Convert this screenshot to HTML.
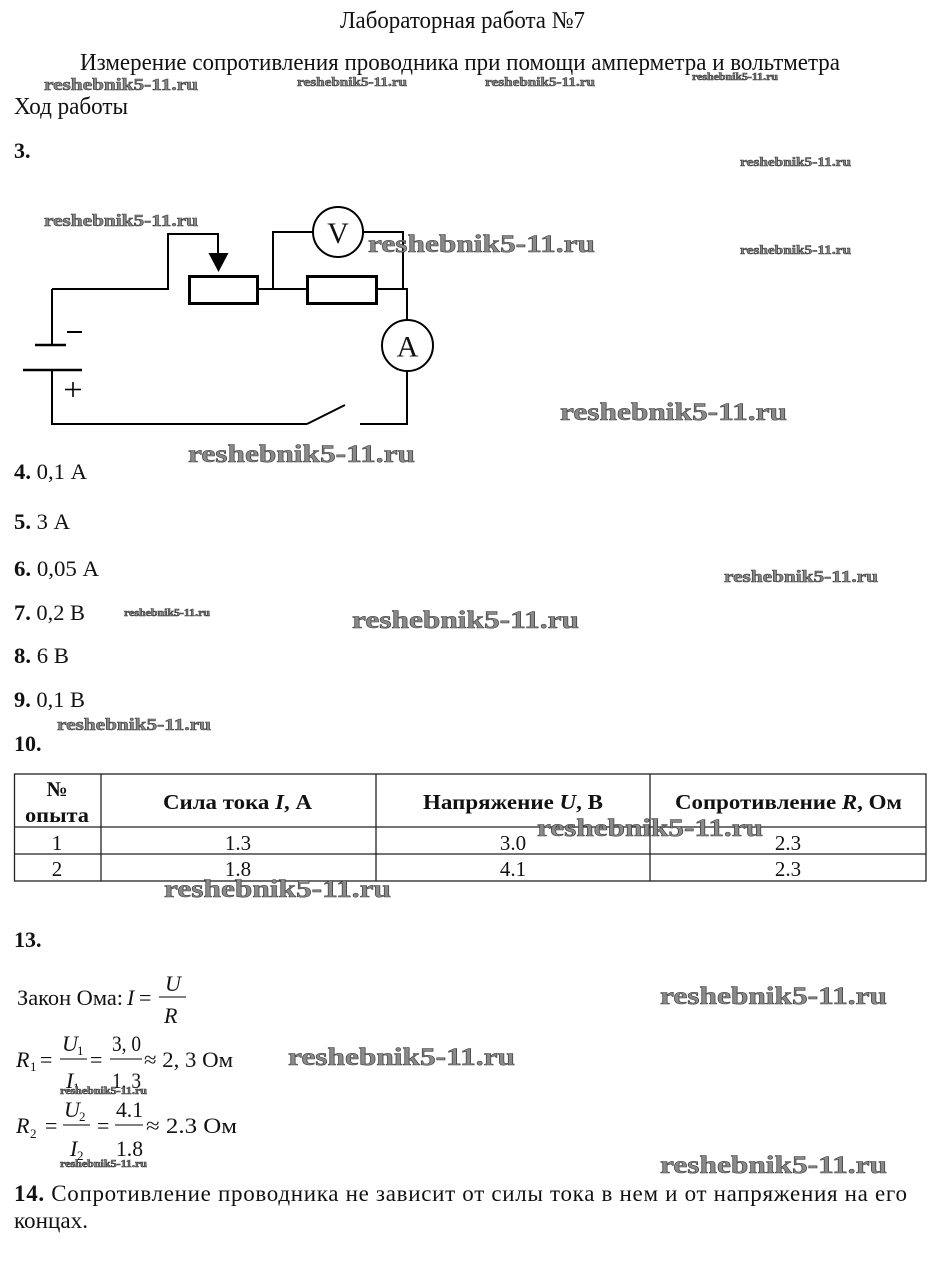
<!DOCTYPE html>
<html><head><meta charset="utf-8"><style>
html,body{margin:0;padding:0;background:#fff;}
svg{display:block;}
text{font-family:"Liberation Serif","DejaVu Serif",serif;fill:#111;}
.b{font-weight:bold;}
.i{font-style:italic;}
.wm{font-family:"Liberation Serif",serif;font-weight:bold;fill:#8a8a8a;stroke:#3c3c3c;stroke-width:0.6;}
.w{stroke:#000;stroke-width:2;fill:none;}
</style></head><body>
<svg width="937" height="1274" viewBox="0 0 937 1274" xmlns="http://www.w3.org/2000/svg">
<rect width="937" height="1274" fill="#fff"/>

<!-- Titles -->
<text x="340" y="28" font-size="24" textLength="245" lengthAdjust="spacingAndGlyphs">Лабораторная работа №7</text>
<text x="80" y="70" font-size="24" textLength="760" lengthAdjust="spacingAndGlyphs">Измерение сопротивления проводника при помощи амперметра и вольтметра</text>
<text x="14" y="114" font-size="24" textLength="114" lengthAdjust="spacingAndGlyphs">Ход работы</text>
<text x="14" y="158" font-size="22" class="b">3.</text>

<!-- Circuit -->
<path class="w" d="M52,289 H168 V234 H218 V254"/>
<polygon points="208.5,253 228.5,253 218.5,272" fill="#000"/>
<rect x="189.5" y="276.5" width="68" height="27" fill="none" stroke="#000" stroke-width="3"/>
<path class="w" d="M257,289 H307"/>
<rect x="307.5" y="276.5" width="69" height="27" fill="none" stroke="#000" stroke-width="3"/>
<path class="w" d="M376,289 H407 V320"/>
<path class="w" d="M273,289 V232 H313"/>
<path class="w" d="M363,232 H403 V289"/>
<circle cx="338" cy="232" r="25" fill="none" stroke="#000" stroke-width="2"/>
<text x="338" y="243" font-size="30" text-anchor="middle">V</text>
<circle cx="407.5" cy="345.5" r="25.5" fill="none" stroke="#000" stroke-width="2"/>
<text x="407.5" y="356.5" font-size="30" text-anchor="middle">A</text>
<path class="w" d="M407,371 V424 H360"/>
<line x1="307" y1="424" x2="345" y2="405" stroke="#000" stroke-width="2"/>
<path class="w" d="M307,424 H52 V370"/>
<path class="w" d="M52,345 V289"/>
<line x1="23" y1="370" x2="82" y2="370" stroke="#000" stroke-width="2.5"/>
<line x1="35" y1="345" x2="66" y2="345" stroke="#000" stroke-width="2.5"/>
<line x1="67" y1="332" x2="82" y2="332" stroke="#000" stroke-width="2"/>
<line x1="65" y1="389.5" x2="81" y2="389.5" stroke="#000" stroke-width="1.6"/>
<line x1="73" y1="382" x2="73" y2="397" stroke="#000" stroke-width="1.6"/>

<!-- Answers -->
<text x="14" y="479" font-size="22" textLength="73" lengthAdjust="spacingAndGlyphs"><tspan class="b">4.</tspan> 0,1 А</text>
<text x="14" y="529" font-size="22" textLength="56" lengthAdjust="spacingAndGlyphs"><tspan class="b">5.</tspan> 3 А</text>
<text x="14" y="576" font-size="22" textLength="85" lengthAdjust="spacingAndGlyphs"><tspan class="b">6.</tspan> 0,05 А</text>
<text x="14" y="620" font-size="22" textLength="71" lengthAdjust="spacingAndGlyphs"><tspan class="b">7.</tspan> 0,2 В</text>
<text x="14" y="663" font-size="22" textLength="55" lengthAdjust="spacingAndGlyphs"><tspan class="b">8.</tspan> 6 В</text>
<text x="14" y="707" font-size="22" textLength="71" lengthAdjust="spacingAndGlyphs"><tspan class="b">9.</tspan> 0,1 В</text>
<text x="14" y="751" font-size="22" class="b">10.</text>

<!-- Table -->
<g stroke="#222" stroke-width="1.3" fill="none">
<rect x="14.5" y="774" width="911.5" height="107"/>
<line x1="14" y1="827" x2="926" y2="827"/>
<line x1="14" y1="854" x2="926" y2="854"/>
<line x1="101" y1="774" x2="101" y2="881"/>
<line x1="376" y1="774" x2="376" y2="881"/>
<line x1="650" y1="774" x2="650" y2="881"/>
</g>
<g font-size="21" class="b">
<text x="57" y="796" text-anchor="middle" class="b">№</text>
<text x="25" y="822" class="b" textLength="64" lengthAdjust="spacingAndGlyphs">опыта</text>
<text x="163" y="809" class="b" textLength="149" lengthAdjust="spacingAndGlyphs">Сила тока <tspan class="i">I</tspan>, А</text>
<text x="423" y="809" class="b" textLength="180" lengthAdjust="spacingAndGlyphs">Напряжение <tspan class="i">U</tspan>, В</text>
<text x="675" y="809" class="b" textLength="227" lengthAdjust="spacingAndGlyphs">Сопротивление <tspan class="i">R</tspan>, Ом</text>
</g>
<g font-size="21" text-anchor="middle" fill="#333">
<text x="57" y="850">1</text>
<text x="238" y="850">1.3</text>
<text x="513" y="850">3.0</text>
<text x="788" y="850">2.3</text>
<text x="57" y="876">2</text>
<text x="238" y="876">1.8</text>
<text x="513" y="876">4.1</text>
<text x="788" y="876">2.3</text>
</g>

<text x="14" y="947" font-size="22" class="b">13.</text>

<!-- Formulas -->
<g font-size="22">
<text x="17" y="1005" textLength="106" lengthAdjust="spacingAndGlyphs">Закон Ома:</text>
<text x="127" y="1005" class="i">I</text>
<text x="139" y="1005">=</text>
<line x1="159" y1="997" x2="186" y2="997" stroke="#000" stroke-width="1"/>
<text x="165" y="991" class="i">U</text>
<text x="164" y="1023" class="i">R</text>

<text x="16" y="1067" class="i">R</text>
<text x="30" y="1071" font-size="13">1</text>
<text x="40" y="1067">=</text>
<line x1="60" y1="1059" x2="87" y2="1059" stroke="#000" stroke-width="1"/>
<text x="62" y="1051" class="i">U</text>
<text x="77" y="1055" font-size="13">1</text>
<text x="66" y="1088" class="i">I</text>
<text x="73" y="1092" font-size="13">1</text>
<text x="90" y="1067">=</text>
<line x1="110" y1="1059" x2="142" y2="1059" stroke="#000" stroke-width="1"/>
<text x="112" y="1051" textLength="29" lengthAdjust="spacingAndGlyphs">3, 0</text>
<text x="112" y="1088" textLength="29" lengthAdjust="spacingAndGlyphs">1, 3</text>
<text x="144" y="1067" textLength="89" lengthAdjust="spacingAndGlyphs">≈ 2, 3 Ом</text>

<text x="16" y="1133" class="i">R</text>
<text x="30" y="1138" font-size="13">2</text>
<text x="45" y="1133">=</text>
<line x1="63" y1="1125" x2="90" y2="1125" stroke="#000" stroke-width="1"/>
<text x="64" y="1117" class="i">U</text>
<text x="79" y="1121" font-size="13">2</text>
<text x="70" y="1156" class="i">I</text>
<text x="77" y="1160" font-size="13">2</text>
<text x="97" y="1133">=</text>
<line x1="115" y1="1125" x2="143" y2="1125" stroke="#000" stroke-width="1"/>
<text x="116" y="1117" textLength="27" lengthAdjust="spacingAndGlyphs">4.1</text>
<text x="116" y="1156" textLength="27" lengthAdjust="spacingAndGlyphs">1.8</text>
<text x="146" y="1133" textLength="91" lengthAdjust="spacingAndGlyphs">≈ 2.3 Ом</text>
</g>

<!-- 14 -->
<text x="14" y="1201" font-size="23" textLength="893" lengthAdjust="spacing"><tspan class="b">14.</tspan> Сопротивление проводника не зависит от силы тока в нем и от напряжения на его</text>
<text x="14" y="1228" font-size="23" textLength="74" lengthAdjust="spacingAndGlyphs">концах.</text>

<!-- Watermarks -->
<g class="wm">
<text class="wm" x="44" y="90" font-size="17" textLength="154" lengthAdjust="spacingAndGlyphs">reshebnik5-11.ru</text>
<text class="wm" x="297" y="86" font-size="13" textLength="110" lengthAdjust="spacingAndGlyphs">reshebnik5-11.ru</text>
<text class="wm" x="485" y="86" font-size="13" textLength="110" lengthAdjust="spacingAndGlyphs">reshebnik5-11.ru</text>
<text class="wm" x="692" y="80" font-size="10" textLength="86" lengthAdjust="spacingAndGlyphs">reshebnik5-11.ru</text>
<text class="wm" x="740" y="166" font-size="13" textLength="111" lengthAdjust="spacingAndGlyphs">reshebnik5-11.ru</text>
<text class="wm" x="44" y="226" font-size="17" textLength="154" lengthAdjust="spacingAndGlyphs">reshebnik5-11.ru</text>
<text class="wm" x="368" y="252" font-size="25" textLength="227" lengthAdjust="spacingAndGlyphs">reshebnik5-11.ru</text>
<text class="wm" x="740" y="254" font-size="13" textLength="111" lengthAdjust="spacingAndGlyphs">reshebnik5-11.ru</text>
<text class="wm" x="560" y="420" font-size="25" textLength="227" lengthAdjust="spacingAndGlyphs">reshebnik5-11.ru</text>
<text class="wm" x="188" y="462" font-size="25" textLength="227" lengthAdjust="spacingAndGlyphs">reshebnik5-11.ru</text>
<text class="wm" x="724" y="582" font-size="17" textLength="154" lengthAdjust="spacingAndGlyphs">reshebnik5-11.ru</text>
<text class="wm" x="124" y="616" font-size="10" textLength="86" lengthAdjust="spacingAndGlyphs">reshebnik5-11.ru</text>
<text class="wm" x="352" y="628" font-size="25" textLength="227" lengthAdjust="spacingAndGlyphs">reshebnik5-11.ru</text>
<text class="wm" x="57" y="730" font-size="17" textLength="154" lengthAdjust="spacingAndGlyphs">reshebnik5-11.ru</text>
<text class="wm" x="537" y="836" font-size="25" textLength="226" lengthAdjust="spacingAndGlyphs">reshebnik5-11.ru</text>
<text class="wm" x="164" y="897" font-size="25" textLength="227" lengthAdjust="spacingAndGlyphs">reshebnik5-11.ru</text>
<text class="wm" x="660" y="1004" font-size="25" textLength="227" lengthAdjust="spacingAndGlyphs">reshebnik5-11.ru</text>
<text class="wm" x="288" y="1065" font-size="25" textLength="227" lengthAdjust="spacingAndGlyphs">reshebnik5-11.ru</text>
<text class="wm" x="60" y="1094" font-size="10" textLength="87" lengthAdjust="spacingAndGlyphs">reshebnik5-11.ru</text>
<text class="wm" x="60" y="1167" font-size="10" textLength="87" lengthAdjust="spacingAndGlyphs">reshebnik5-11.ru</text>
<text class="wm" x="660" y="1173" font-size="25" textLength="227" lengthAdjust="spacingAndGlyphs">reshebnik5-11.ru</text>
</g>
</svg>
</body></html>
